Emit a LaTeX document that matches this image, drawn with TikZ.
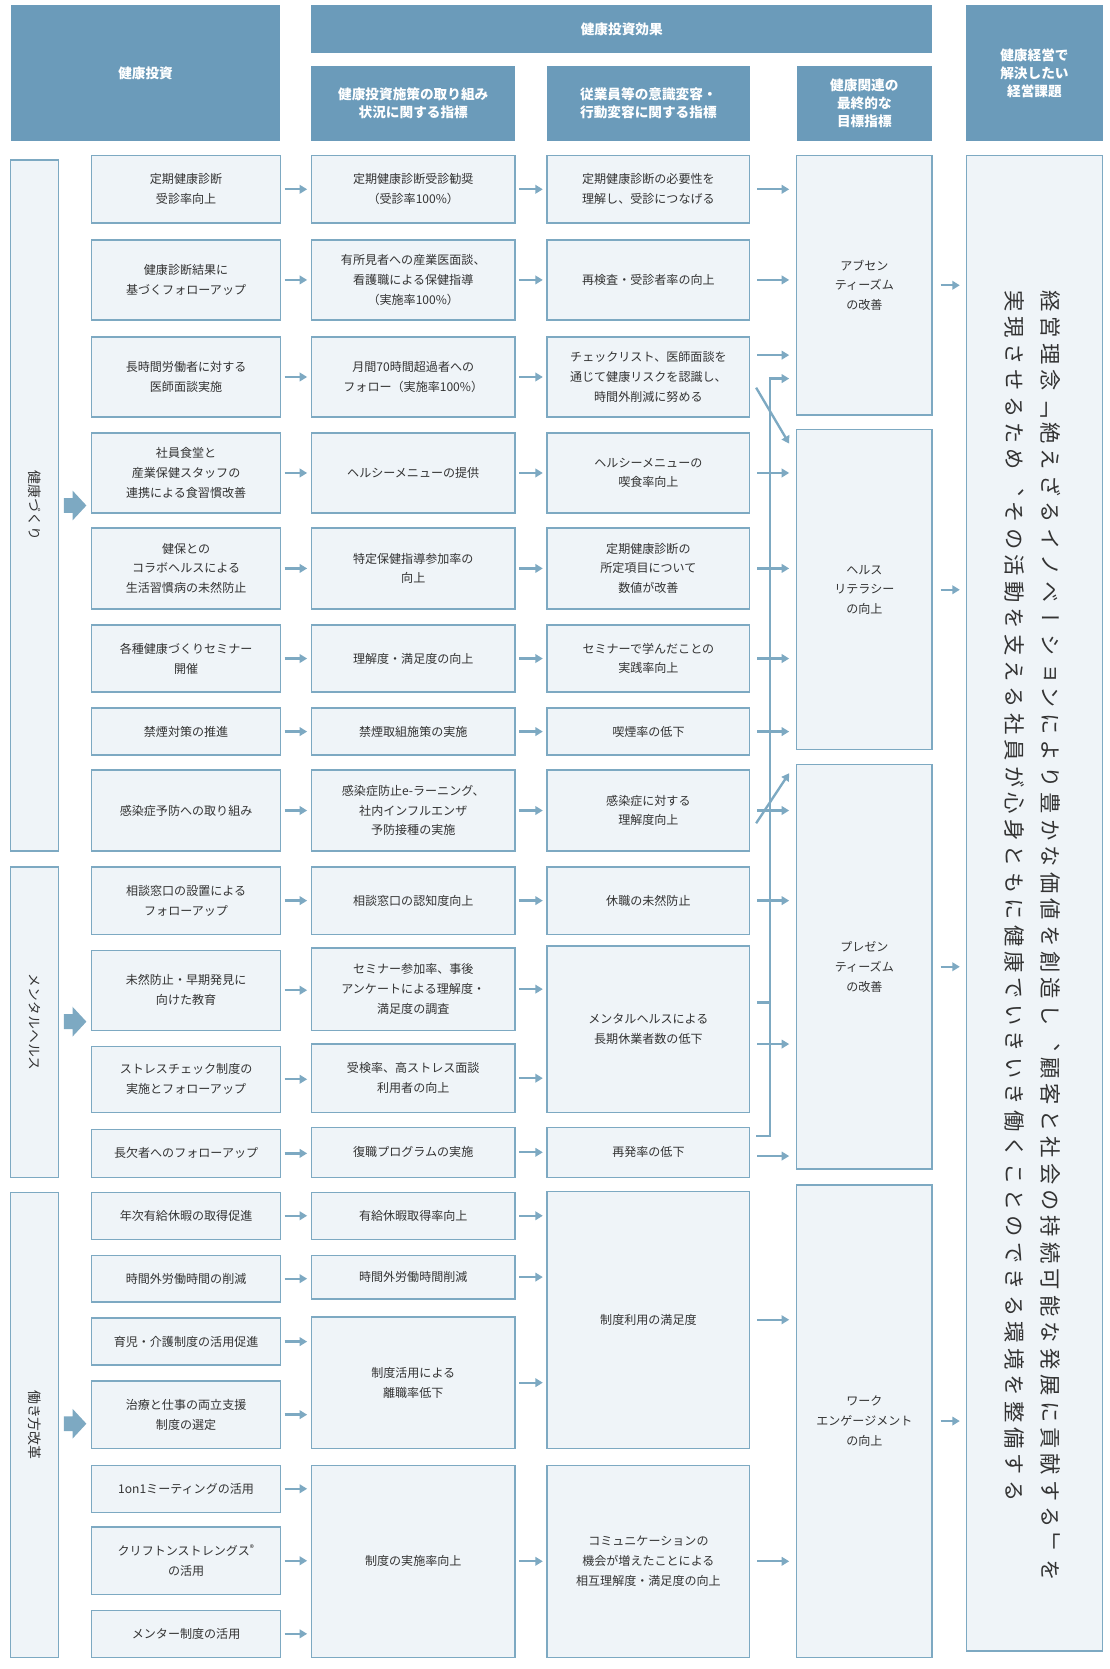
\documentclass[tikz,border=0pt]{standalone}
\usepackage{fontspec}
\setmainfont{Noto Sans CJK JP}
\newfontfamily\vjp[Vertical=RotatedGlyphs,RawFeature=+vert]{Noto Sans CJK JP}
\newfontfamily\vjpl[Vertical=RotatedGlyphs,RawFeature=+vert,LetterSpace=24]{Noto Sans CJK JP}
\usetikzlibrary{arrows.meta}
\definecolor{hd}{HTML}{6B9BBA}
\definecolor{bd}{HTML}{7DA9C2}
\definecolor{bf}{HTML}{EFF4F8}
\definecolor{tx}{HTML}{333333}
\tikzset{
 box/.style={draw=bd,fill=bf,line width=1.3pt,align=center,text=tx,font=\fontsize{11.3}{18.5}\selectfont,inner sep=0pt,outer sep=0pt},
 hdr/.style={fill=hd,align=center,text=white,font=\fontsize{12.8}{17}\selectfont\bfseries,inner sep=0pt,outer sep=0pt},
 arr/.style={draw=bd,line width=2.2pt,-{Triangle[length=7pt,width=8pt]}},
 ln/.style={draw=bd,line width=2.2pt},
 vt/.style={rotate=-90,anchor=west,text=tx,inner sep=0pt},
}
\newcommand\bx[7][box]{\node[#1,minimum width={(#5-#3)*1pt},minimum height={(#6-#4)*1pt}] (#2) at ({(#3+#5)/2},{(#4+#6)/2}) {#7};}
\begin{document}
\begin{tikzpicture}[x=1pt,y=-1pt]
\useasboundingbox[fill=white] (0,0) rectangle (1040,1565);
% headers
\bx[hdr]{h1}{10}{5}{263}{132}{健康投資}
\bx[hdr]{h0}{292}{5}{874}{50}{健康投資効果}
\bx[hdr]{h2}{292}{62}{483}{132}{健康投資施策の取り組み\\状況に関する指標}
\bx[hdr]{h3}{513}{62}{703}{132}{従業員等の意識変容・\\行動変容に関する指標}
\bx[hdr]{h4}{747}{62}{874}{132}{健康関連の\\最終的な\\目標指標}
\bx[hdr]{h5}{906}{5}{1034}{132}{健康経営で\\解決したい\\経営課題}
% side
\bx{s1}{10}{150}{55}{798}{}
\bx{s2}{10}{813}{55}{1104}{}
\bx{s3}{10}{1118}{55}{1554}{}
\node[vt,font=\vjp\fontsize{13}{14}\selectfont] at (s1.center) [anchor=center] {健康づくり};
\node[vt,font=\vjp\fontsize{13}{14}\selectfont] at (s2.center) [anchor=center] {メンタルヘルス};
\node[vt,font=\vjp\fontsize{13}{14}\selectfont] at (s3.center) [anchor=center] {働き方改革};
\foreach \y in {474,958,1335}{\fill[bd] (60,\y-7) -- (68,\y-7) -- (68,\y-14) -- (81,\y) -- (68,\y+14) -- (68,\y+7) -- (60,\y+7) -- cycle;}
% col1
\bx{a1}{86}{146}{263}{209}{定期健康診断\\受診率向上}
\bx{a2}{86}{225}{263}{300}{健康診断結果に\\基づくフォローアップ}
\bx{a3}{86}{316}{263}{391}{長時間労働者に対する\\医師面談実施}
\bx{a4}{86}{406}{263}{481}{社員食堂と\\産業保健スタッフの\\連携による食習慣改善}
\bx{a5}{86}{495}{263}{571}{健保との\\コラボヘルスによる\\生活習慣病の未然防止}
\bx{a6}{86}{586}{263}{649}{各種健康づくりセミナー\\開催}
\bx{a7}{86}{664}{263}{708}{禁煙対策の推進}
\bx{a8}{86}{722}{263}{798}{感染症予防への取り組み}
\bx{a9}{86}{813}{263}{876}{相談窓口の設置による\\フォローアップ}
\bx{a10}{86}{891}{263}{966}{未然防止・早期発見に\\向けた教育}
\bx{a11}{86}{981}{263}{1043}{ストレスチェック制度の\\実施とフォローアップ}
\bx{a12}{86}{1059}{263}{1104}{長欠者へのフォローアップ}
\bx{a13}{86}{1118}{263}{1162}{年次有給休暇の取得促進}
\bx{a14}{86}{1177}{263}{1221}{時間外労働時間の削減}
\bx{a15}{86}{1236}{263}{1280}{育児・介護制度の活用促進}
\bx{a16}{86}{1295}{263}{1358}{治療と仕事の両立支援\\制度の選定}
\bx{a17}{86}{1374}{263}{1418}{1on1ミーティングの活用}
\bx{a18}{86}{1432}{263}{1495}{クリフトンストレングス\textsuperscript{®}\\の活用}
\bx{a19}{86}{1510}{263}{1554}{メンター制度の活用}
% col2
\bx{b1}{292}{146}{483}{209}{定期健康診断受診勧奨\\（受診率100\%）}
\bx{b2}{292}{225}{483}{300}{有所見者への産業医面談、\\看護職による保健指導\\（実施率100\%）}
\bx{b3}{292}{316}{483}{391}{月間70時間超過者への\\フォロー（実施率100\%）}
\bx{b4}{292}{406}{483}{481}{ヘルシーメニューの提供}
\bx{b5}{292}{495}{483}{571}{特定保健指導参加率の\\向上}
\bx{b6}{292}{586}{483}{649}{理解度・満足度の向上}
\bx{b7}{292}{664}{483}{708}{禁煙取組施策の実施}
\bx{b8}{292}{722}{483}{798}{感染症防止e-ラーニング、\\社内インフルエンザ\\予防接種の実施}
\bx{b9}{292}{813}{483}{876}{相談窓口の認知度向上}
\bx{b10}{292}{889}{483}{966}{セミナー参加率、事後\\アンケートによる理解度・\\満足度の調査}
\bx{b11}{292}{979}{483}{1043}{受検率、高ストレス面談\\利用者の向上}
\bx{b12}{292}{1057}{483}{1104}{復職プログラムの実施}
\bx{b13}{292}{1118}{483}{1162}{有給休暇取得率向上}
\bx{b14}{292}{1177}{483}{1218}{時間外労働時間削減}
\bx{b15}{292}{1235}{483}{1358}{制度活用による\\離職率低下}
\bx{b16}{292}{1374}{483}{1554}{制度の実施率向上}
% col3
\bx{c1}{513}{146}{703}{209}{定期健康診断の必要性を\\理解し、受診につなげる}
\bx{c2}{513}{225}{703}{300}{再検査・受診者率の向上}
\bx{c3}{513}{316}{703}{391}{チェックリスト、医師面談を\\通じて健康リスクを認識し、\\時間外削減に努める}
\bx{c4}{513}{406}{703}{481}{ヘルシーメニューの\\喫食率向上}
\bx{c5}{513}{495}{703}{571}{定期健康診断の\\所定項目について\\数値が改善}
\bx{c6}{513}{586}{703}{649}{セミナーで学んだことの\\実践率向上}
\bx{c7}{513}{664}{703}{708}{喫煙率の低下}
\bx{c8}{513}{722}{703}{798}{感染症に対する\\理解度向上}
\bx{c9}{513}{813}{703}{876}{休職の未然防止}
\bx{c10}{513}{887}{703}{1043}{メンタルヘルスによる\\長期休業者数の低下}
\bx{c11}{513}{1057}{703}{1104}{再発率の低下}
\bx{c12}{513}{1117}{703}{1358}{制度利用の満足度}
\bx{c13}{513}{1374}{703}{1554}{コミュニケーションの\\機会が増えたことによる\\相互理解度・満足度の向上}
% col4
\bx{d1}{747}{146}{874}{389}{アブセン\\ティーズム\\の改善}
\bx{d2}{747}{403}{874}{703}{ヘルス\\リテラシー\\の向上}
\bx{d3}{747}{717}{874}{1096}{プレゼン\\ティーズム\\の改善}
\bx{d4}{747}{1111}{874}{1554}{ワーク\\エンゲージメント\\の向上}
% col5
\bx{e1}{906}{146}{1034}{1548}{}
\node[vt,font=\vjpl\fontsize{20}{22}\selectfont] (e1a) at (985,272) {経営理念「絶えざるイノベーションにより豊かな価値を創造し、顧客と社会の持続可能な発展に貢献する」を};
\node[vt,font=\vjpl\fontsize{20}{22}\selectfont] (e1b) at (951,272) {実現させるため、その活動を支える社員が心身ともに健康でいきいき働くことのできる環境を整備する};
% arrows col1->col2
\foreach \i/\j in {1/1,2/2,3/3,4/4,5/5,6/6,7/7,8/8,9/9,10/10,11/11,12/12,13/13,14/14,15/15,16/15,17/16,18/16,19/16}
  \draw[arr,shorten <=4pt,shorten >=4pt] (a\i.east) -- (b\j.west |- a\i.east);
% col2->col3
\foreach \i/\j in {1/1,2/2,3/3,4/4,5/5,6/6,7/7,8/8,9/9,10/10,11/10,12/11,13/12,14/12,15/12,16/13}
  \draw[arr,shorten <=4pt,shorten >=4pt] (b\i.east) -- (c\j.west |- b\i.east);
% col3->col4
\foreach \i/\j in {1/1,2/2,4/2,5/2,6/2,7/2,8/3,9/3,12/4,13/4}
  \draw[arr,shorten <=7pt,shorten >=7pt] (c\i.east) -- (d\j.west |- c\i.east);
\coordinate (y333) at (0,333);
\coordinate (y940) at (0,940);
\coordinate (y979) at (0,979);
\coordinate (y1084) at (0,1084);
\coordinate (vb) at (722,1065);
\coordinate (vt) at (722,355);
\draw[arr,shorten <=7pt,shorten >=7pt] (c3.east |- y333) -- (d1.west |- y333);
\draw[arr] ([xshift=6pt,yshift=-10pt]c3.east) -- ([xshift=-7pt,yshift=-13pt]d2.north west);
\draw[arr] ([xshift=6pt,yshift=-50pt]c8.north east) -- ([xshift=-7pt,yshift=-22pt]d2.south west);
\draw[arr,shorten <=7pt,shorten >=7pt] (c10.east |- y979) -- (d3.west |- y979);
\draw[arr,shorten <=7pt,shorten >=7pt] (c11.east |- y1084) -- (d3.west |- y1084);
\draw[ln,shorten <=-1pt] ([xshift=7pt]c11.east |- vb) -- (vb) -- ([yshift=-1.1pt]vt);
\draw[ln,shorten <=7pt] (c10.east |- y940) -- (vb |- y940);
\draw[arr,shorten >=7pt] ([xshift=-1.1pt]vt) -- (d1.west |- vt);
% col4->col5
\foreach \j in {1,2,3,4}
  \draw[arr,shorten <=8pt,shorten >=6pt] (d\j.east) -- (e1.west |- d\j.east);
\end{tikzpicture}
\end{document}
